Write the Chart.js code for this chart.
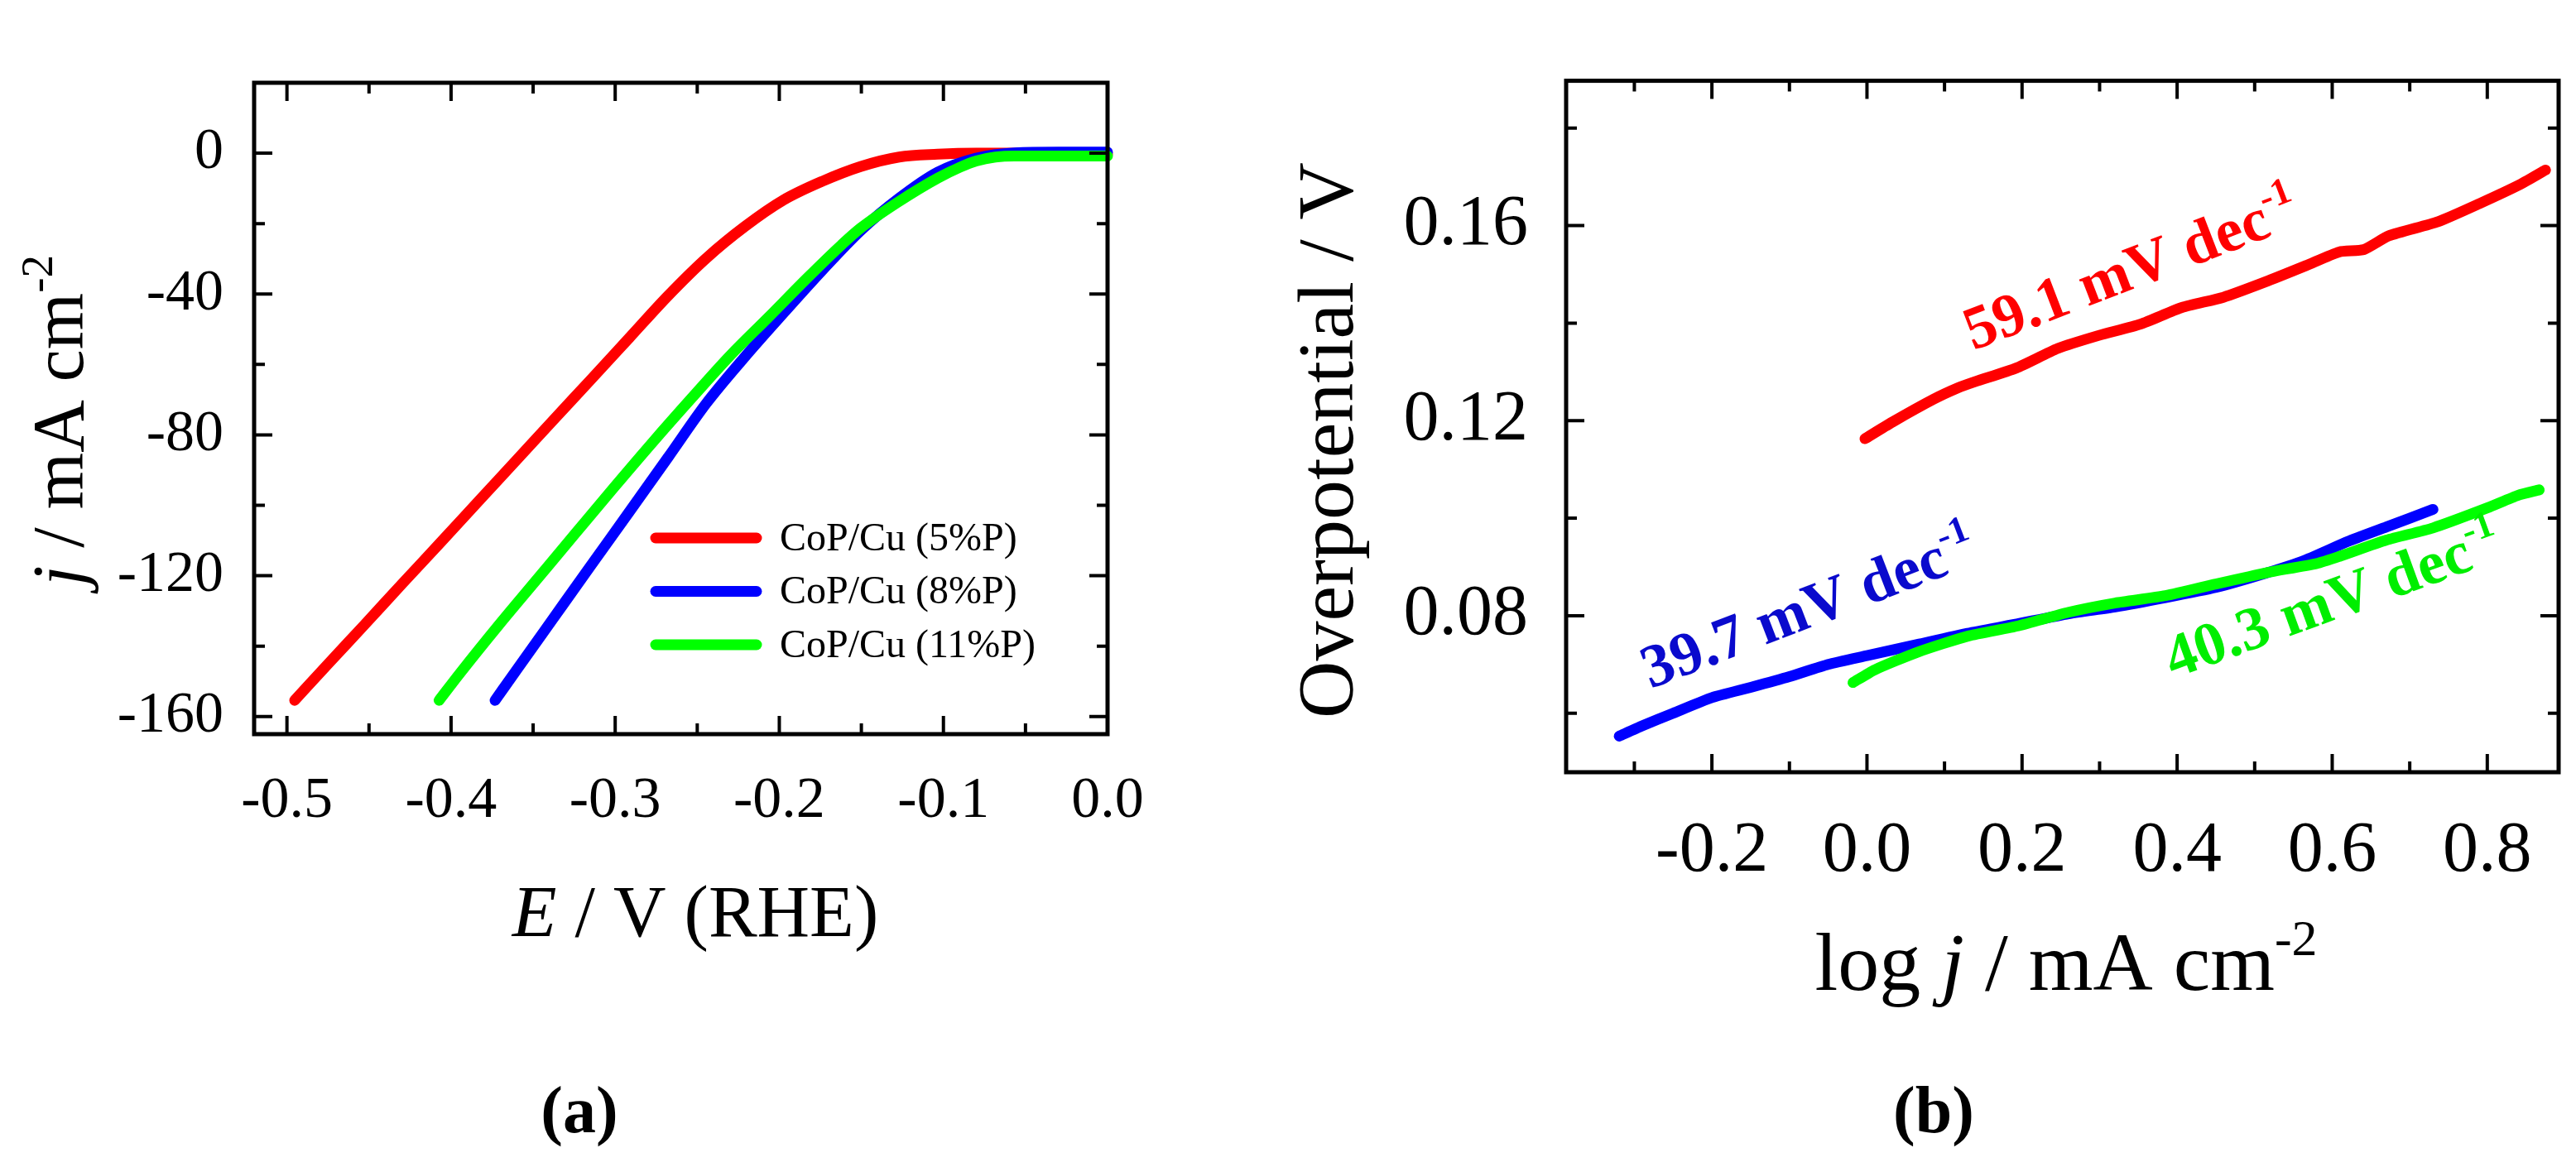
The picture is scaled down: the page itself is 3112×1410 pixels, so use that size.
<!DOCTYPE html>
<html>
<head>
<meta charset="utf-8">
<script src="https://cdn.jsdelivr.net/npm/chart.js@4.4.0/dist/chart.umd.min.js"></script>
<style>
  html, body { margin: 0; padding: 0; background: #fff; }
  body { width: 3112px; height: 1410px; position: relative; overflow: hidden; }
  .panel { position: absolute; top: 0; width: 1556px; height: 1410px; }
  #panelA { left: 0; }
  #panelB { left: 1556px; }
</style>
</head>
<body>
<div class="panel" id="panelA"><canvas id="lsv" width="1556" height="1410"></canvas></div>
<div class="panel" id="panelB"><canvas id="tafel" width="1556" height="1410"></canvas></div>
<script>
// ---- data ----
const seriesNames = ["CoP/Cu (5%P)", "CoP/Cu (8%P)", "CoP/Cu (11%P)"];
const seriesColors = ["#ff0000", "#0000ff", "#00ff00"];

// (a) polarisation curves: E / V (RHE) vs j / mA cm-2
const potential5 = [-0.4953, -0.4742, -0.4531, -0.4296, -0.4061, -0.3826, -0.3592, -0.3383, -0.3148, -0.2913, -0.2678, -0.2444, -0.2209, -0.1974, -0.1739, -0.1505, -0.1270, -0.1035, -0.0800, -0.0400, 0.0];
const current5 = [-155.4, -144.7, -134.1, -122.2, -110.4, -98.5, -86.7, -76.1, -64.3, -52.4, -40.5, -29.8, -20.8, -13.3, -8.0, -3.8, -1.1, -0.3, 0.0, 0.0, -0.3];

const potential8 = [-0.3732, -0.3592, -0.3383, -0.3148, -0.2913, -0.2678, -0.2444, -0.2209, -0.1974, -0.1739, -0.1505, -0.1270, -0.1035, -0.0800, -0.0566, -0.0300, 0.0];
const current8 = [-155.4, -146.2, -132.5, -117.1, -101.8, -86.4, -71.0, -57.8, -45.4, -33.3, -22.0, -12.8, -5.4, -1.4, 0.1, 0.3, 0.3];

const potential11 = [-0.4073, -0.3944, -0.3709, -0.3474, -0.3239, -0.3005, -0.2770, -0.2535, -0.2300, -0.2066, -0.1831, -0.1620, -0.1505, -0.1270, -0.1035, -0.0900, -0.0800, -0.0683, -0.0566, -0.0300, 0.0];
const current11 = [-155.4, -147.6, -134.0, -120.9, -107.8, -94.8, -82.0, -69.6, -57.5, -46.6, -35.5, -26.0, -21.3, -13.7, -7.1, -4.0, -2.2, -1.1, -0.8, -0.8, -0.8];

// (b) Tafel plots: log j vs overpotential / V
const logJ5 = [-0.0026, 0.0327, 0.086, 0.117, 0.1394, 0.1927, 0.2461, 0.2995, 0.3528, 0.4062, 0.4596, 0.5129, 0.5663, 0.609, 0.641, 0.673, 0.7364, 0.7897, 0.8431, 0.8751];
const eta5 = [0.1163, 0.1197, 0.1244, 0.1267, 0.1280, 0.1308, 0.1348, 0.1375, 0.1398, 0.1432, 0.1453, 0.1484, 0.1518, 0.1546, 0.1551, 0.1579, 0.1608, 0.1645, 0.1685, 0.1714];

const logJ8 = [-0.3195, -0.29, -0.25, -0.20, -0.15, -0.10, -0.05, 0.00, 0.065, 0.13, 0.19, 0.26, 0.32, 0.385, 0.45, 0.51, 0.565, 0.62, 0.67, 0.73];
const eta8 = [0.0553, 0.0574, 0.0600, 0.0632, 0.0653, 0.0675, 0.0700, 0.0718, 0.0741, 0.0764, 0.0782, 0.0804, 0.0818, 0.0837, 0.0858, 0.0885, 0.0914, 0.0952, 0.0982, 0.1018];

const logJ11 = [-0.018, 0.01, 0.065, 0.13, 0.195, 0.26, 0.32, 0.385, 0.45, 0.515, 0.58, 0.61, 0.67, 0.73, 0.80, 0.84, 0.867];
const eta11 = [0.0663, 0.0689, 0.0725, 0.0758, 0.0779, 0.0807, 0.0826, 0.0841, 0.0865, 0.0888, 0.0907, 0.0922, 0.0955, 0.0980, 0.1021, 0.1047, 0.1058];

const tafelSlopes = ["59.1", "39.7", "40.3"];

// ticks
const lsvXTicks = [-0.5, -0.4, -0.3, -0.2, -0.1, 0.0];
const lsvXMinor = [-0.45, -0.35, -0.25, -0.15, -0.05];
const lsvYTicks = [0, -40, -80, -120, -160];
const lsvYMinor = [-20, -60, -100, -140];
const tafelXTicks = [-0.2, 0.0, 0.2, 0.4, 0.6, 0.8];
const tafelXMinor = [-0.3, -0.1, 0.1, 0.3, 0.5, 0.7];
const tafelYTicks = [0.08, 0.12, 0.16];
const tafelYMinor = [0.06, 0.10, 0.14, 0.18];

const SERIF = '"Liberation Serif", "Times New Roman", serif';

function pts(xs, ys) { return xs.map((x, i) => ({ x: x, y: ys[i] })); }

// draw a run of text pieces (italic / superscript) from an anchor
function drawRich(ctx, parts, x, y, size, o) {
  o = o || {};
  ctx.save();
  ctx.translate(x, y);
  if (o.rot) ctx.rotate(o.rot);
  const fontOf = p => (p.i ? 'italic ' : '') + (o.bold ? 'bold ' : '') +
    (p.sup ? Math.round(size * 0.62) : size) + 'px ' + SERIF;
  let w = 0;
  parts.forEach(p => { ctx.font = fontOf(p); p.w = ctx.measureText(p.t).width; w += p.w; });
  let cx = o.align === 'center' ? -w / 2 : 0;
  ctx.fillStyle = o.color || '#000';
  ctx.textBaseline = 'alphabetic';
  ctx.textAlign = 'left';
  parts.forEach(p => {
    ctx.font = fontOf(p);
    ctx.fillText(p.t, cx, p.sup ? -size * 0.42 : 0);
    cx += p.w;
  });
  ctx.restore();
}

// box + inward ticks on all four sides
const framePlugin = {
  id: 'frame',
  afterDraw(chart, args, opts) {
    const { ctx, chartArea: a, scales } = chart;
    const xs = scales.x, ys = scales.y;
    ctx.save();
    ctx.strokeStyle = '#000';
    ctx.lineWidth = opts.lineWidth;
    ctx.lineCap = 'butt';
    ctx.strokeRect(a.left, a.top, a.right - a.left, a.bottom - a.top);
    const xt = (v, len) => {
      const p = xs.getPixelForValue(v);
      ctx.beginPath();
      ctx.moveTo(p, a.bottom); ctx.lineTo(p, a.bottom - len);
      ctx.moveTo(p, a.top); ctx.lineTo(p, a.top + len);
      ctx.stroke();
    };
    const yt = (v, len) => {
      const p = ys.getPixelForValue(v);
      ctx.beginPath();
      ctx.moveTo(a.left, p); ctx.lineTo(a.left + len, p);
      ctx.moveTo(a.right, p); ctx.lineTo(a.right - len, p);
      ctx.stroke();
    };
    ctx.lineWidth = opts.tickWidth;
    opts.xMajor.forEach(v => xt(v, opts.major));
    opts.xMinor.forEach(v => xt(v, opts.minor));
    opts.yMajor.forEach(v => yt(v, opts.major));
    opts.yMinor.forEach(v => yt(v, opts.minor));
    ctx.restore();
  }
};

// axis titles, panel letters, legend, slope labels
const textPlugin = {
  id: 'texts',
  afterDraw(chart, args, opts) {
    const ctx = chart.ctx;
    (opts.items || []).forEach(it => drawRich(ctx, it.parts, it.x, it.y, it.size, it));
    if (opts.legend) {
      const L = opts.legend;
      chart.data.datasets.forEach((ds, i) => {
        const y = L.y + i * L.gap;
        ctx.save();
        ctx.strokeStyle = ds.borderColor;
        ctx.lineWidth = L.lineWidth;
        ctx.lineCap = 'round';
        ctx.beginPath();
        ctx.moveTo(L.x, y); ctx.lineTo(L.x + L.len, y);
        ctx.stroke();
        ctx.fillStyle = '#000';
        ctx.font = L.size + 'px ' + SERIF;
        ctx.textBaseline = 'middle';
        ctx.textAlign = 'left';
        ctx.fillText(ds.label, L.x + L.len + L.textGap, y + 2);
        ctx.restore();
      });
    }
    if (opts.slopes) {
      const xs = chart.scales.x, ys = chart.scales.y;
      opts.slopes.forEach(s => {
        drawRich(ctx, [{ t: s.value + ' mV dec' }, { t: '-1', sup: true }],
          xs.getPixelForValue(s.at[0]), ys.getPixelForValue(s.at[1]), s.size,
          { rot: s.angle * Math.PI / 180, bold: true, color: s.color });
      });
    }
  }
};

function fixTicks(list) {
  return scale => { scale.ticks = list.map(v => ({ value: v })); };
}

// ---------- (a) ----------
new Chart(document.getElementById('lsv'), {
  type: 'line',
  data: {
    datasets: [
      { label: seriesNames[0], data: pts(potential5, current5), borderColor: seriesColors[0], order: 2 },
      { label: seriesNames[1], data: pts(potential8, current8), borderColor: seriesColors[1], order: 1 },
      { label: seriesNames[2], data: pts(potential11, current11), borderColor: seriesColors[2], order: 0 }
    ]
  },
  options: {
    responsive: false,
    devicePixelRatio: 1,
    animation: false,
    clip: false,
    layout: { padding: { left: 0, top: 100, right: 218, bottom: 273 } },
    elements: {
      point: { radius: 0 },
      line: { borderWidth: 13, borderCapStyle: 'round', borderJoinStyle: 'round', cubicInterpolationMode: 'monotone', fill: false }
    },
    scales: {
      x: {
        type: 'linear', min: -0.52, max: 0,
        grid: { display: false, drawTicks: false }, border: { display: false },
        afterBuildTicks: fixTicks(lsvXTicks),
        afterFit: s => { s.height = 250; },
        ticks: { font: { family: SERIF, size: 70 }, color: '#000', padding: 40, maxRotation: 0,
                 callback: v => v.toFixed(1) }
      },
      y: {
        type: 'linear', min: -165, max: 20,
        grid: { display: false, drawTicks: false }, border: { display: false },
        afterBuildTicks: fixTicks(lsvYTicks),
        afterFit: s => { s.width = 307; },
        ticks: { font: { family: SERIF, size: 70 }, color: '#000', padding: 37,
                 callback: v => String(Math.round(v)) }
      }
    },
    plugins: {
      legend: { display: false },
      tooltip: { enabled: false },
      frame: { lineWidth: 5, tickWidth: 4, major: 22, minor: 13,
               xMajor: lsvXTicks, xMinor: lsvXMinor, yMajor: lsvYTicks, yMinor: lsvYMinor },
      texts: {
        legend: { x: 792, y: 650, gap: 64.5, len: 122, lineWidth: 13, textGap: 28, size: 48 },
        items: [
          { parts: [{ t: 'E', i: true }, { t: ' / V (RHE)' }], x: 840, y: 1131, size: 88, align: 'center' },
          { parts: [{ t: 'j', i: true }, { t: ' / mA cm' }, { t: '-2', sup: true }], x: 100, y: 508, size: 88, align: 'center', rot: -Math.PI / 2 },
          { parts: [{ t: '(' }, { t: 'a' }, { t: ')' }], x: 700, y: 1368, size: 80, align: 'center', bold: true }
        ]
      }
    }
  },
  plugins: [framePlugin, textPlugin]
});

// ---------- (b) ----------
new Chart(document.getElementById('tafel'), {
  type: 'line',
  data: {
    datasets: [
      { label: seriesNames[0], data: pts(logJ5, eta5), borderColor: seriesColors[0], order: 2 },
      { label: seriesNames[1], data: pts(logJ8, eta8), borderColor: seriesColors[1], order: 1 },
      { label: seriesNames[2], data: pts(logJ11, eta11), borderColor: seriesColors[2], order: 0 }
    ]
  },
  options: {
    responsive: false,
    devicePixelRatio: 1,
    animation: false,
    clip: false,
    layout: { padding: { left: 0, top: 23, right: 21, bottom: 227 } },
    elements: {
      point: { radius: 0 },
      line: { borderWidth: 13, borderCapStyle: 'round', borderJoinStyle: 'round', tension: 0.2, fill: false }
    },
    scales: {
      x: {
        type: 'linear', min: -0.388, max: 0.892,
        grid: { display: false, drawTicks: false }, border: { display: false },
        afterBuildTicks: fixTicks(tafelXTicks),
        afterFit: s => { s.height = 250; },
        ticks: { font: { family: SERIF, size: 86 }, color: '#000', padding: 45, maxRotation: 0,
                 callback: v => v.toFixed(1) }
      },
      y: {
        type: 'linear', min: 0.0479, max: 0.1897,
        grid: { display: false, drawTicks: false }, border: { display: false },
        afterBuildTicks: fixTicks(tafelYTicks),
        afterFit: s => { s.width = 336; },
        ticks: { font: { family: SERIF, size: 86 }, color: '#000', padding: 46,
                 callback: v => v.toFixed(2) }
      }
    },
    plugins: {
      legend: { display: false },
      tooltip: { enabled: false },
      frame: { lineWidth: 5, tickWidth: 4, major: 22, minor: 13,
               xMajor: tafelXTicks, xMinor: tafelXMinor, yMajor: tafelYTicks, yMinor: tafelYMinor },
      texts: {
        slopes: [
          { value: tafelSlopes[0], at: [0.137, 0.1344], angle: -21, size: 74, color: '#ff0000' },
          { value: tafelSlopes[1], at: [-0.279, 0.0650], angle: -21, size: 74, color: '#0a0acd' },
          { value: tafelSlopes[2], at: [0.395, 0.0671], angle: -20, size: 74, color: '#00ee00' }
        ],
        items: [
          { parts: [{ t: 'log ' }, { t: 'j', i: true }, { t: ' / mA cm' }, { t: '-2', sup: true }], x: 940, y: 1196, size: 100, align: 'center' },
          { parts: [{ t: 'Overpotential / V' }], x: 78, y: 532, size: 96, align: 'center', rot: -Math.PI / 2 },
          { parts: [{ t: '(' }, { t: 'b' }, { t: ')' }], x: 780, y: 1368, size: 80, align: 'center', bold: true }
        ]
      }
    }
  },
  plugins: [framePlugin, textPlugin]
});
</script>
</body>
</html>
